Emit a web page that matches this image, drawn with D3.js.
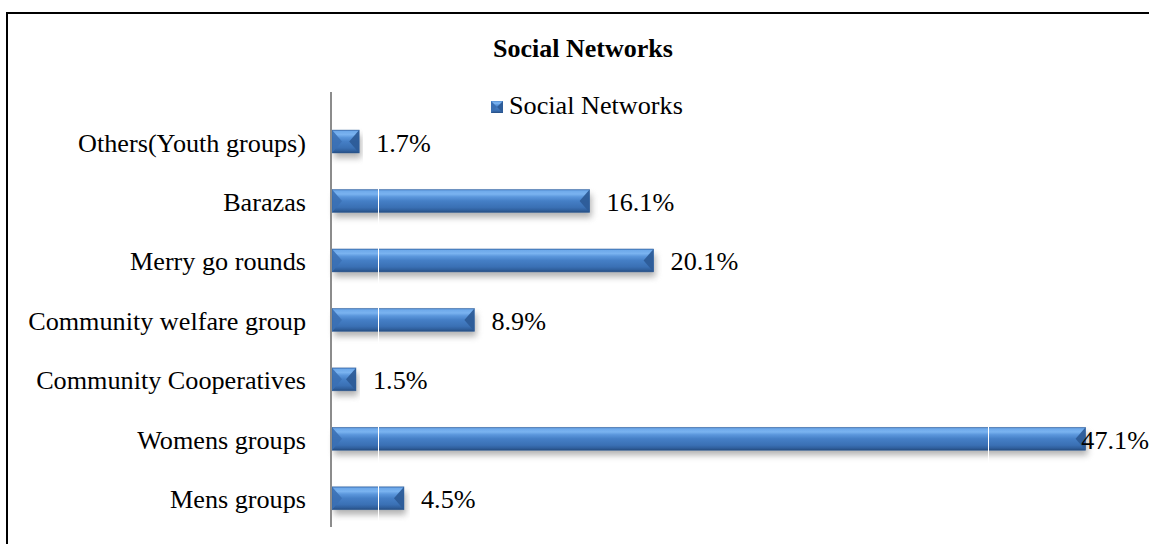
<!DOCTYPE html>
<html>
<head>
<meta charset="utf-8">
<script src="https://cdn.jsdelivr.net/npm/d3@7"></script>
<style>
  html, body { margin: 0; padding: 0; background: #fff; }
  svg { display: block; }
</style>
</head>
<body>
<svg id="chart" width="1149" height="544"></svg>
<script>
// Social network membership shares (percent), listed top to bottom
const categories = [
  "Others(Youth groups)",
  "Barazas",
  "Merry go rounds",
  "Community welfare group",
  "Community Cooperatives",
  "Womens groups",
  "Mens groups"
];
const values = [1.7, 16.1, 20.1, 8.9, 1.5, 47.1, 4.5];
const valueLabels = ["1.7%", "16.1%", "20.1%", "8.9%", "1.5%", "47.1%", "4.5%"];
const gridValues = [2.9, 41.0];
const seriesName = "Social Networks";
const chartTitle = "Social Networks";

const W = 1149, H = 544;
const svg = d3.select("#chart");
const FONT = "'Liberation Serif', 'Times New Roman', serif";
const FS = 26.2;

const defs = svg.append("defs");
const grad = defs.append("linearGradient")
  .attr("id", "barGrad").attr("x1", 0).attr("y1", 0).attr("x2", 0).attr("y2", 1);
[
  [0, "#3f74b8"], [0.06, "#6ea9ea"], [0.2, "#7ab3f0"], [0.32, "#5b97dc"],
  [0.5, "#457fc6"], [0.78, "#3a70b4"], [0.9, "#30609e"], [1, "#264d80"]
].forEach(([o, c]) => grad.append("stop").attr("offset", o).attr("stop-color", c));

const shadow = defs.append("filter").attr("id", "shadow")
  .attr("x", "-5%").attr("y", "-50%").attr("width", "110%").attr("height", "200%");
shadow.append("feGaussianBlur").attr("stdDeviation", 3);

// outer frame
svg.append("rect")
  .attr("x", 7).attr("y", 13).attr("width", W + 20).attr("height", H + 20)
  .attr("fill", "none").attr("stroke", "#000").attr("stroke-width", 2);

const x = d3.scaleLinear().domain([0, 50]).range([332, 1132]);
const y = d3.scaleBand().domain(categories).range([111.8, 528])
  .paddingInner(0.614).paddingOuter(0.307);

const data = categories.map((c, i) => ({ cat: c, value: values[i], label: valueLabels[i] }));

// title
svg.append("text")
  .attr("x", 583).attr("y", 57)
  .attr("text-anchor", "middle")
  .attr("font-family", FONT).attr("font-size", 26).attr("font-weight", "bold")
  .text(chartTitle);

// legend
const lg = svg.append("g").attr("transform", "translate(491,101)");
lg.append("rect").attr("width", 12).attr("height", 12).attr("fill", "url(#barGrad)");
lg.append("path").attr("d", "M0,0 L6,6 L0,12 Z").attr("fill", "#3a6fb2");
lg.append("path").attr("d", "M12,0 L6,6 L12,12 Z").attr("fill", "#2e5d9a");
lg.append("text").attr("x", 18).attr("y", 13)
  .attr("font-family", FONT).attr("font-size", FS).attr("fill", "#000")
  .text(seriesName);

// shadows
svg.append("g").selectAll("rect").data(data).join("rect")
  .attr("x", x(0) + 2)
  .attr("y", d => y(d.cat) + 5)
  .attr("width", d => x(d.value) - x(0))
  .attr("height", y.bandwidth())
  .attr("fill", "#8a8a8a").attr("opacity", 0.65)
  .attr("filter", "url(#shadow)");

// bars with bevelled ends
const bars = svg.append("g").selectAll("g").data(data).join("g");
bars.append("rect")
  .attr("x", x(0))
  .attr("y", d => y(d.cat))
  .attr("width", d => x(d.value) - x(0))
  .attr("height", y.bandwidth())
  .attr("fill", "url(#barGrad)");
bars.append("path")
  .attr("d", d => {
    const x0 = x(0), y0 = y(d.cat), h = y.bandwidth();
    const b = Math.min(10, (x(d.value) - x0) / 2);
    return `M${x0},${y0} L${x0 + b},${y0 + h / 2} L${x0},${y0 + h} Z`;
  })
  .attr("fill", "#3b70b4").attr("opacity", 0.9);
bars.append("path")
  .attr("d", d => {
    const x1 = x(d.value), y0 = y(d.cat), h = y.bandwidth();
    const b = Math.min(10, (x1 - x(0)) / 2);
    return `M${x1},${y0} L${x1 - b},${y0 + h / 2} L${x1},${y0 + h} Z`;
  })
  .attr("fill", "#2d5c98").attr("opacity", 0.95);
bars.append("rect")
  .attr("x", x(0))
  .attr("y", d => y(d.cat))
  .attr("width", d => x(d.value) - x(0))
  .attr("height", y.bandwidth())
  .attr("fill", "none").attr("stroke", "#2f5f9c").attr("stroke-width", 0.6).attr("opacity", 0.7);

// white vertical gridlines
svg.append("g").selectAll("line").data(gridValues).join("line")
  .attr("x1", d => Math.round(x(d)) + 0.5).attr("x2", d => Math.round(x(d)) + 0.5)
  .attr("y1", 100).attr("y2", 528)
  .attr("stroke", "#fff").attr("stroke-width", 1);

// category axis line
svg.append("line")
  .attr("x1", 331).attr("x2", 331).attr("y1", 92).attr("y2", 527)
  .attr("stroke", "#8c8c8c").attr("stroke-width", 2);

// category labels
svg.append("g").selectAll("text").data(data).join("text")
  .attr("x", 306)
  .attr("y", d => y(d.cat) + y.bandwidth() / 2 + 10)
  .attr("text-anchor", "end")
  .attr("font-family", FONT).attr("font-size", FS).attr("fill", "#000")
  .text(d => d.cat);

// value labels
svg.append("g").selectAll("text").data(data).join("text")
  .attr("y", d => y(d.cat) + y.bandwidth() / 2 + 10)
  .attr("font-family", FONT).attr("font-size", FS).attr("fill", "#000")
  .text(d => d.label)
  .attr("x", function (d) {
    const w = this.getComputedTextLength();
    return Math.min(x(d.value) + 17, W - w);
  });
</script>
</body>
</html>
